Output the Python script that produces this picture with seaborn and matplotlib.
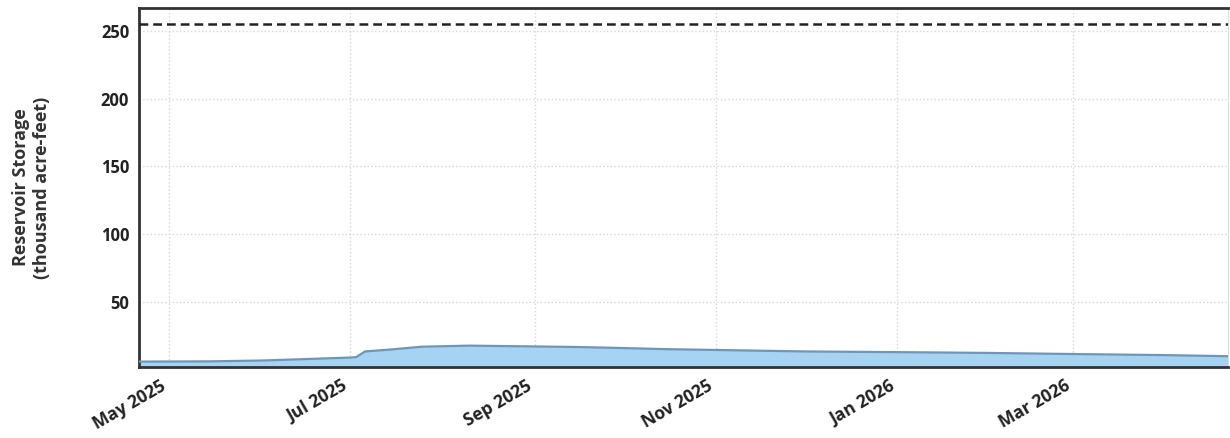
import pandas as pd
import matplotlib.pyplot as plt
import matplotlib.dates as mdates
import seaborn as sns

# Storage readings (thousand acre-feet)
datas = ['2025-04-21', '2025-05-15', '2025-06-01', '2025-06-15', '2025-07-01',
         '2025-07-03', '2025-07-06', '2025-07-15', '2025-07-25', '2025-08-10',
         '2025-09-01', '2025-09-15', '2025-10-01', '2025-10-15', '2025-11-01',
         '2025-12-01', '2026-01-01', '2026-02-01', '2026-03-01', '2026-04-01',
         '2026-04-22']
armazenamento = [6.0, 6.2, 6.8, 7.8, 9.0,
                 9.3, 13.5, 15.0, 17.0, 17.8,
                 17.2, 16.8, 16.0, 15.2, 14.6,
                 13.5, 13.0, 12.4, 11.6, 10.8,
                 10.0]
capacidade = 255
yticks = [50, 100, 150, 200, 250]

df = pd.DataFrame({'Data': pd.to_datetime(datas), 'Storage': armazenamento})

sns.set_style('whitegrid')
plt.rcParams['font.family'] = ['Open Sans', 'DejaVu Sans']

fig = plt.figure(figsize=(12.3, 4.38), dpi=100)
ax = fig.add_axes([0.113, 0.162, 0.885, 0.82])

ax.fill_between(df['Data'], 0, df['Storage'], color='#a6d3f2', zorder=2)
sns.lineplot(data=df, x='Data', y='Storage', color='#6f96b8', linewidth=1.6, ax=ax, zorder=3)
ax.axhline(capacidade, color='#222222', linestyle='--', linewidth=1.8, dashes=(3.5, 2), zorder=4)

ax.set_xlim(pd.Timestamp('2025-04-21'), pd.Timestamp('2026-04-22'))
ax.set_ylim(2, 267)
ax.set_yticks(yticks)
ax.xaxis.set_major_locator(mdates.MonthLocator(bymonth=[1, 3, 5, 7, 9, 11]))
ax.xaxis.set_major_formatter(mdates.DateFormatter('%b %Y'))
plt.setp(ax.get_xticklabels(), rotation=30, ha='right', fontsize=12.5, fontweight='bold', color='#222222')
plt.setp(ax.get_yticklabels(), fontsize=12, fontweight='bold', color='#222222')

ax.grid(True, color='#d8d8d8', linestyle=':', linewidth=1)
for lado in ['left', 'bottom', 'top']:
    ax.spines[lado].set_color('#333333')
    ax.spines[lado].set_linewidth(2)
ax.spines['right'].set_color('#dddddd')
ax.set_xlabel('')
ax.set_ylabel('Reservoir Storage\n(thousand acre-feet)', fontsize=13, fontweight='bold',
              color='#333333', labelpad=36)

plt.savefig('out.png')
